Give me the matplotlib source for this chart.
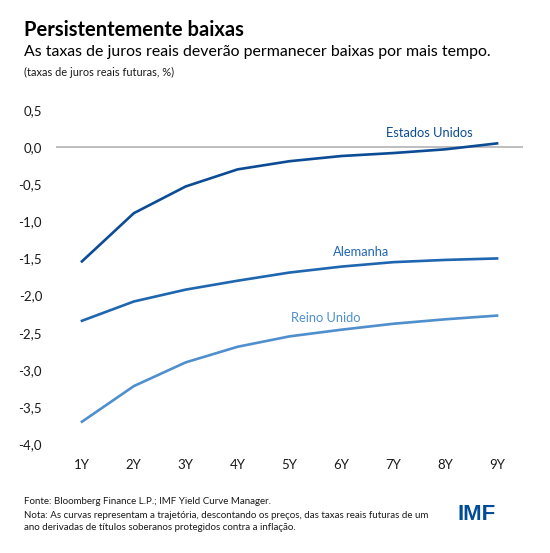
import matplotlib.pyplot as plt

# === DATA ===
maturities = ["1Y", "2Y", "3Y", "4Y", "5Y", "6Y", "7Y", "8Y", "9Y"]
us_rates = [-1.54, -0.89, -0.53, -0.30, -0.19, -0.12, -0.08, -0.03, 0.05]
de_rates = [-2.34, -2.08, -1.92, -1.80, -1.69, -1.61, -1.55, -1.52, -1.50]
uk_rates = [-3.70, -3.22, -2.90, -2.69, -2.55, -2.46, -2.38, -2.32, -2.27]
y_ticks = [0.5, 0.0, -0.5, -1.0, -1.5, -2.0, -2.5, -3.0, -3.5, -4.0]

# === STYLE ===
plt.rcParams['font.family'] = ['Lato', 'DejaVu Sans']
US_COLOR = "#0B4C94"
DE_COLOR = "#1F66B0"
UK_COLOR = "#4F8FCD"
TEXT_COLOR = "#1a1a1a"

W, H = 550, 553
fig = plt.figure(figsize=(W / 100, H / 100), dpi=100)

# axes box in pixels: x 56..523, y 110..444
ax = fig.add_axes([56 / W, 1 - 444 / H, (523 - 56) / W, (444 - 110) / H])

x = list(range(1, len(maturities) + 1))
ax.plot(x, us_rates, color=US_COLOR, lw=1.9)
ax.plot(x, de_rates, color=DE_COLOR, lw=1.9)
ax.plot(x, uk_rates, color=UK_COLOR, lw=1.9)
ax.axhline(0, color="#b3b3b3", lw=1.2, zorder=0)

ax.set_xlim(0.5, 9.5)
ax.set_ylim(-4.0, 0.5)
ax.set_xticks(x)
ax.set_xticklabels(maturities)
ax.set_yticks(y_ticks)
ax.set_yticklabels([f"{v:.1f}".replace(".", ",") for v in y_ticks])
ax.tick_params(length=0, labelsize=9.5, labelcolor=TEXT_COLOR)
ax.tick_params(axis="x", pad=11)
ax.tick_params(axis="y", pad=10)
for s in ax.spines.values():
    s.set_visible(False)

# series labels
ax.text(7.69, 0.19, "Estados Unidos", color=US_COLOR, fontsize=9.3, ha="center", va="center")
ax.text(6.38, -1.41, "Alemanha", color=DE_COLOR, fontsize=9.3, ha="center", va="center")
ax.text(5.69, -2.30, "Reino Unido", color=UK_COLOR, fontsize=9.3, ha="center", va="center")

# === TITLES ===
fig.text(24 / W, 1 - 30 / H, "Persistentemente baixas", fontsize=14.5, fontweight="bold",
         color="black", va="center")
fig.text(24 / W, 1 - 52 / H, "As taxas de juros reais deverão permanecer baixas por mais tempo.",
         fontsize=11.4, color="black", va="center")
fig.text(24 / W, 1 - 72 / H, "(taxas de juros reais futuras, %)", fontsize=7.9,
         color=TEXT_COLOR, va="center")

# === FOOTER ===
fig.text(24 / W, 1 - 501 / H, "Fonte: Bloomberg Finance L.P.; IMF Yield Curve Manager.",
         fontsize=7.0, color=TEXT_COLOR, va="center")
fig.text(24 / W, 1 - 515 / H,
         "Nota: As curvas representam a trajetória, descontando os preços, das taxas reais futuras de um",
         fontsize=7.0, color=TEXT_COLOR, va="center")
fig.text(24 / W, 1 - 528 / H, "ano derivadas de títulos soberanos protegidos contra a inflação.",
         fontsize=7.0, color=TEXT_COLOR, va="center")
fig.text(477 / W, 1 - 515 / H, "IMF", fontsize=16, fontweight="bold", color="#004C97",
         ha="center", va="center", family=["Liberation Sans", "DejaVu Sans"])

fig.savefig("out.png", dpi=100)
